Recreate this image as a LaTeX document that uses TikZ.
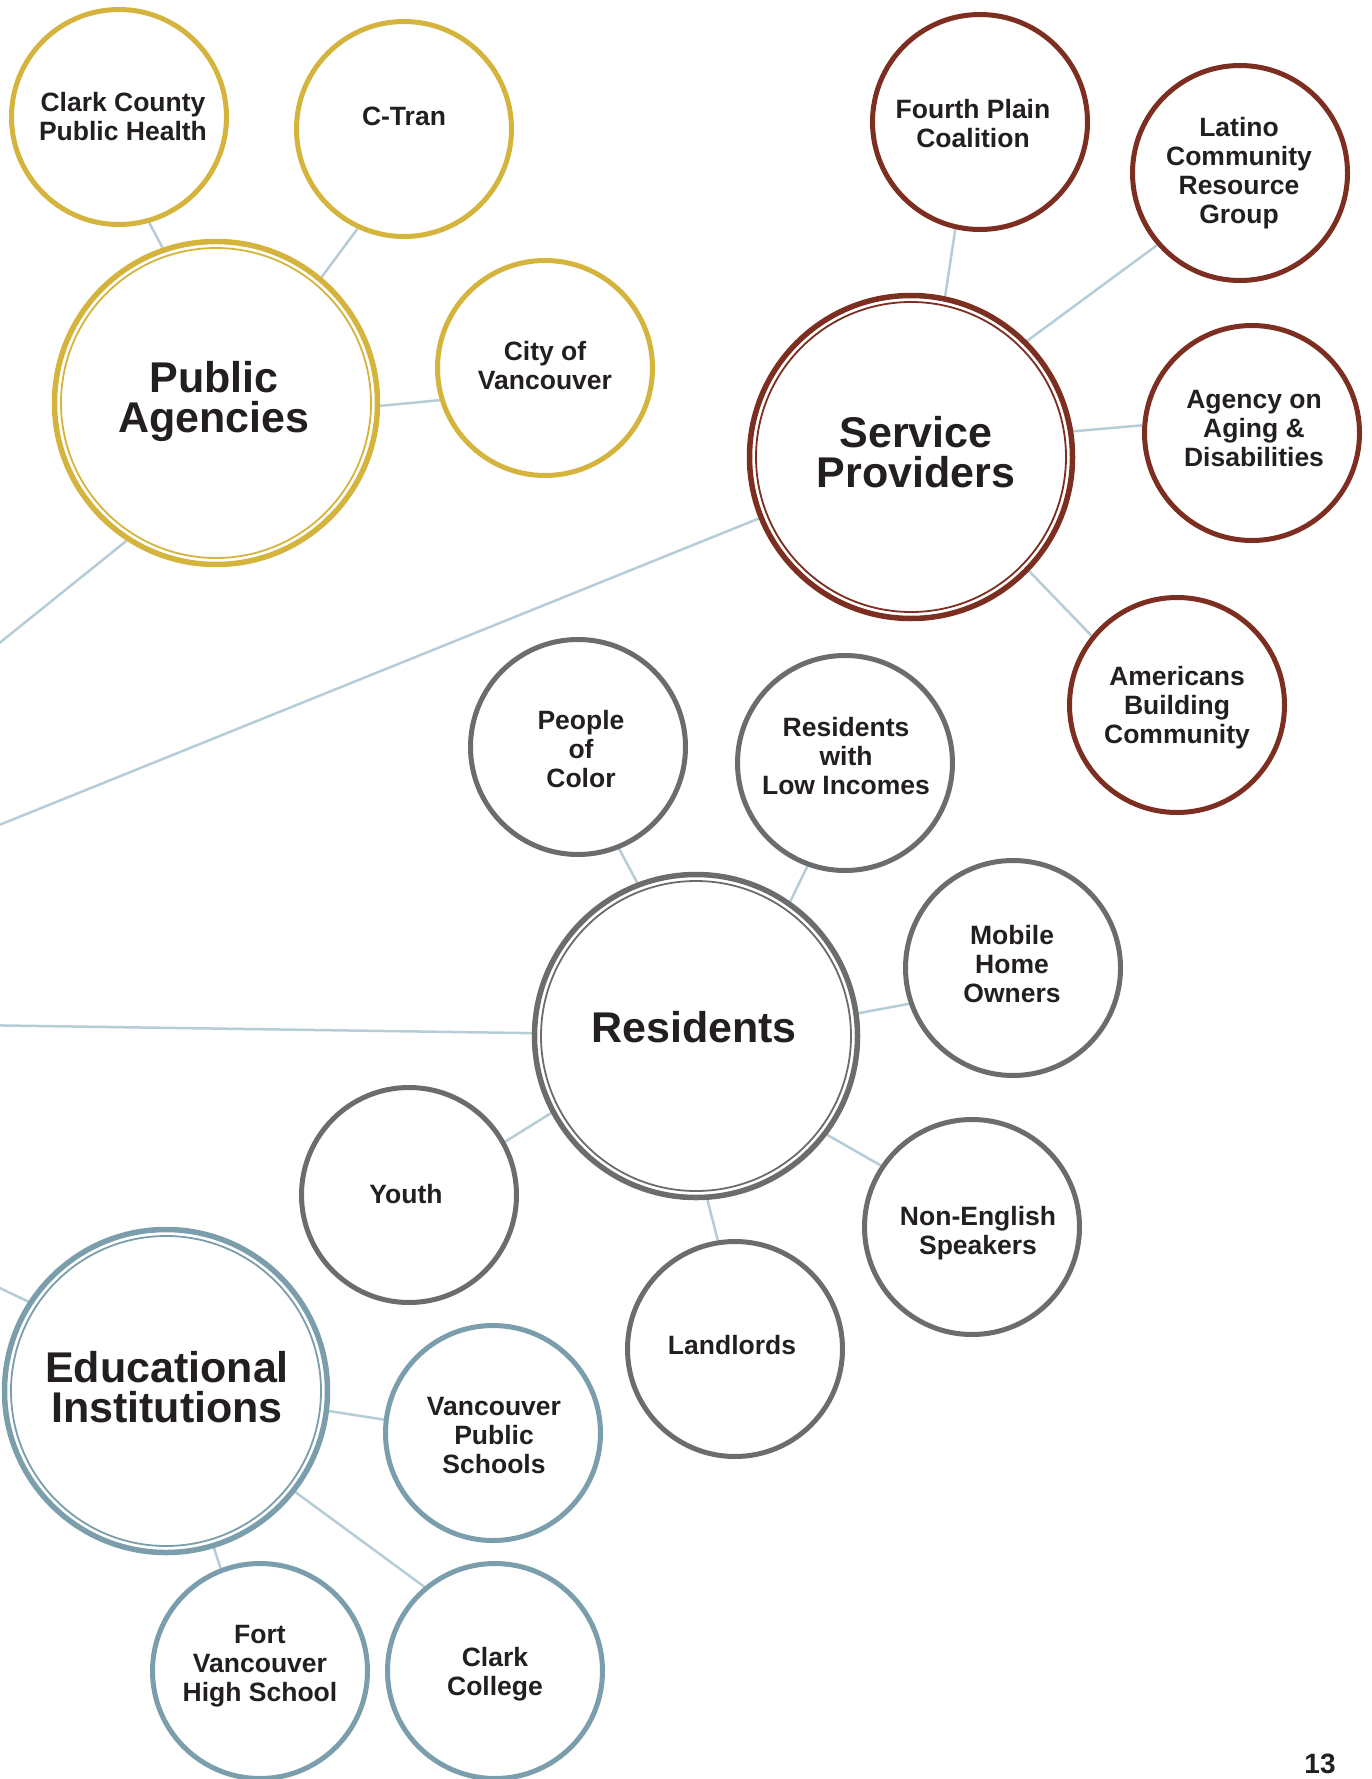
\documentclass[tikz,border=0pt]{standalone}
\usepackage{fontspec}
\setmainfont{Liberation Sans}
\usetikzlibrary{backgrounds}
\definecolor{gold}{HTML}{D5B43E}
\definecolor{brown}{HTML}{7C2E20}
\definecolor{stone}{HTML}{6C6C6C}
\definecolor{edublue}{HTML}{7A9EAC}
\definecolor{conn}{HTML}{B6CDD8}
\definecolor{ink}{HTML}{231F20}
\begin{document}
\begin{tikzpicture}[x=1pt,y=-1pt,
  sat/.style={circle, draw=#1, line width=5pt, fill=white, minimum size=215pt, inner sep=0pt},
  hub/.style={circle, draw=#1, line width=5.5pt, fill=white, minimum size=323pt, inner sep=0pt},
  ring/.style={draw=#1, line width=1.8pt},
  lbl/.style={font=\fontsize{26.5}{29}\selectfont\bfseries, align=center, text=ink, inner sep=0pt},
  hublbl/.style={font=\fontsize{43}{40}\selectfont\bfseries, align=center, text=ink, inner sep=0pt},
  link/.style={draw=conn, line width=2.5pt}]
\useasboundingbox (0,0) rectangle (1372,1779);

% hubs
\node[hub=gold] (pa) at (216,403) {};
\node[hub=brown] (sp) at (911,457) {};
\node[hub=stone] (res) at (696,1036) {};
\node[hub=edublue] (ei) at (166,1391) {};
\draw[ring=gold] (pa.center) circle[radius=155pt];
\draw[ring=brown] (sp.center) circle[radius=155pt];
\draw[ring=stone] (res.center) circle[radius=155pt];
\draw[ring=edublue] (ei.center) circle[radius=155pt];

% satellites
\node[sat=gold] (cc) at (119,117) {};
\node[sat=gold] (ctran) at (404,129) {};
\node[sat=gold] (cov) at (545,368) {};
\node[sat=brown] (fp) at (980,122) {};
\node[sat=brown] (lat) at (1240,173) {};
\node[sat=brown] (aad) at (1252,433) {};
\node[sat=brown] (abc) at (1177,705) {};
\node[sat=stone] (poc) at (578,747) {};
\node[sat=stone] (li) at (845,763) {};
\node[sat=stone] (mh) at (1013,968) {};
\node[sat=stone] (youth) at (409,1195) {};
\node[sat=stone] (ne) at (972,1227) {};
\node[sat=stone] (ll) at (735,1349) {};
\node[sat=edublue] (vps) at (493,1433) {};
\node[sat=edublue] (fv) at (260,1671) {};
\node[sat=edublue] (ccol) at (495,1671) {};

% off-page ends
\coordinate (offpa) at (-100,723);
\coordinate (offsp) at (-100,865);
\coordinate (offres) at (-100,1024);
\coordinate (offei) at (-100,1240.5);

\begin{scope}[on background layer]
\clip (0,0) rectangle (1372,1779);
\draw[link] (cc.286.5) -- (pa.109.5);
\draw[link] (ctran.245) -- (pa.50);
\draw[link] (cov.197) -- (pa.-1);
\draw[link] (pa.237) -- (offpa);
\draw[link] (fp.257) -- (sp.78.5);
\draw[link] (lat.221) -- (sp.45);
\draw[link] (aad.176.4) -- (sp.9.4);
\draw[link] (abc.141.5) -- (sp.316.7);
\draw[link] (sp.202) -- (offsp);
\draw[link] (poc.292) -- (res.111.7);
\draw[link] (li.250.3) -- (res.55.6);
\draw[link] (mh.199.4) -- (res.8);
\draw[link] (youth.29.4) -- (res.208.8);
\draw[link] (ne.146) -- (res.323.2);
\draw[link] (ll.99.5) -- (res.274.4);
\draw[link] (res.179.7) -- (offres);
\draw[link] (vps.173.8) -- (ei.353.9);
\draw[link] (fv.111) -- (ei.287.6);
\draw[link] (ccol.130.6) -- (ei.322);
\draw[link] (ei.147.4) -- (offei);
\end{scope}

% labels
\node[hublbl] (pa-t) at (214,401.5) {Public\\Agencies};
\node[hublbl] (sp-t) at (916,452) {Service\\Providers};
\node[hublbl] (res-t) at (694,1027) {Residents};
\node[hublbl] (ei-t) at (167,1387) {Educational\\Institutions};

\node[lbl] (cc-t) at (123,117) {Clark County\\Public Health};
\node[lbl] (ctran-t) at (404,116) {C-Tran};
\node[lbl] (cov-t) at (545,366) {City of\\Vancouver};
\node[lbl] (fp-t) at (973,124) {Fourth Plain\\Coalition};
\node[lbl] (lat-t) at (1239,173.5) {Latino\\Community\\Resource\\Group};
\node[lbl] (aad-t) at (1254,429) {Agency on\\Aging \&\\Disabilities};
\node[lbl] (abc-t) at (1177,707.5) {Americans\\Building\\Community};
\node[lbl] (poc-t) at (581,749) {People\\of\\Color};
\node[lbl] (li-t) at (846,756) {Residents\\with\\Low Incomes};
\node[lbl] (mh-t) at (1012,964) {Mobile\\Home\\Owners};
\node[lbl] (youth-t) at (406,1194) {Youth};
\node[lbl] (ne-t) at (978,1233.5) {Non-English\\Speakers};
\node[lbl] (ll-t) at (732,1345) {Landlords};
\node[lbl] (vps-t) at (494,1435) {Vancouver\\Public\\Schools};
\node[lbl] (fv-t) at (260,1666.5) {Fort\\Vancouver\\High School};
\node[lbl] (ccol-t) at (495,1674) {Clark\\College};
\node[lbl, font=\fontsize{28}{30}\selectfont\bfseries] (page) at (1320,1764) {13};
\end{tikzpicture}
\end{document}
